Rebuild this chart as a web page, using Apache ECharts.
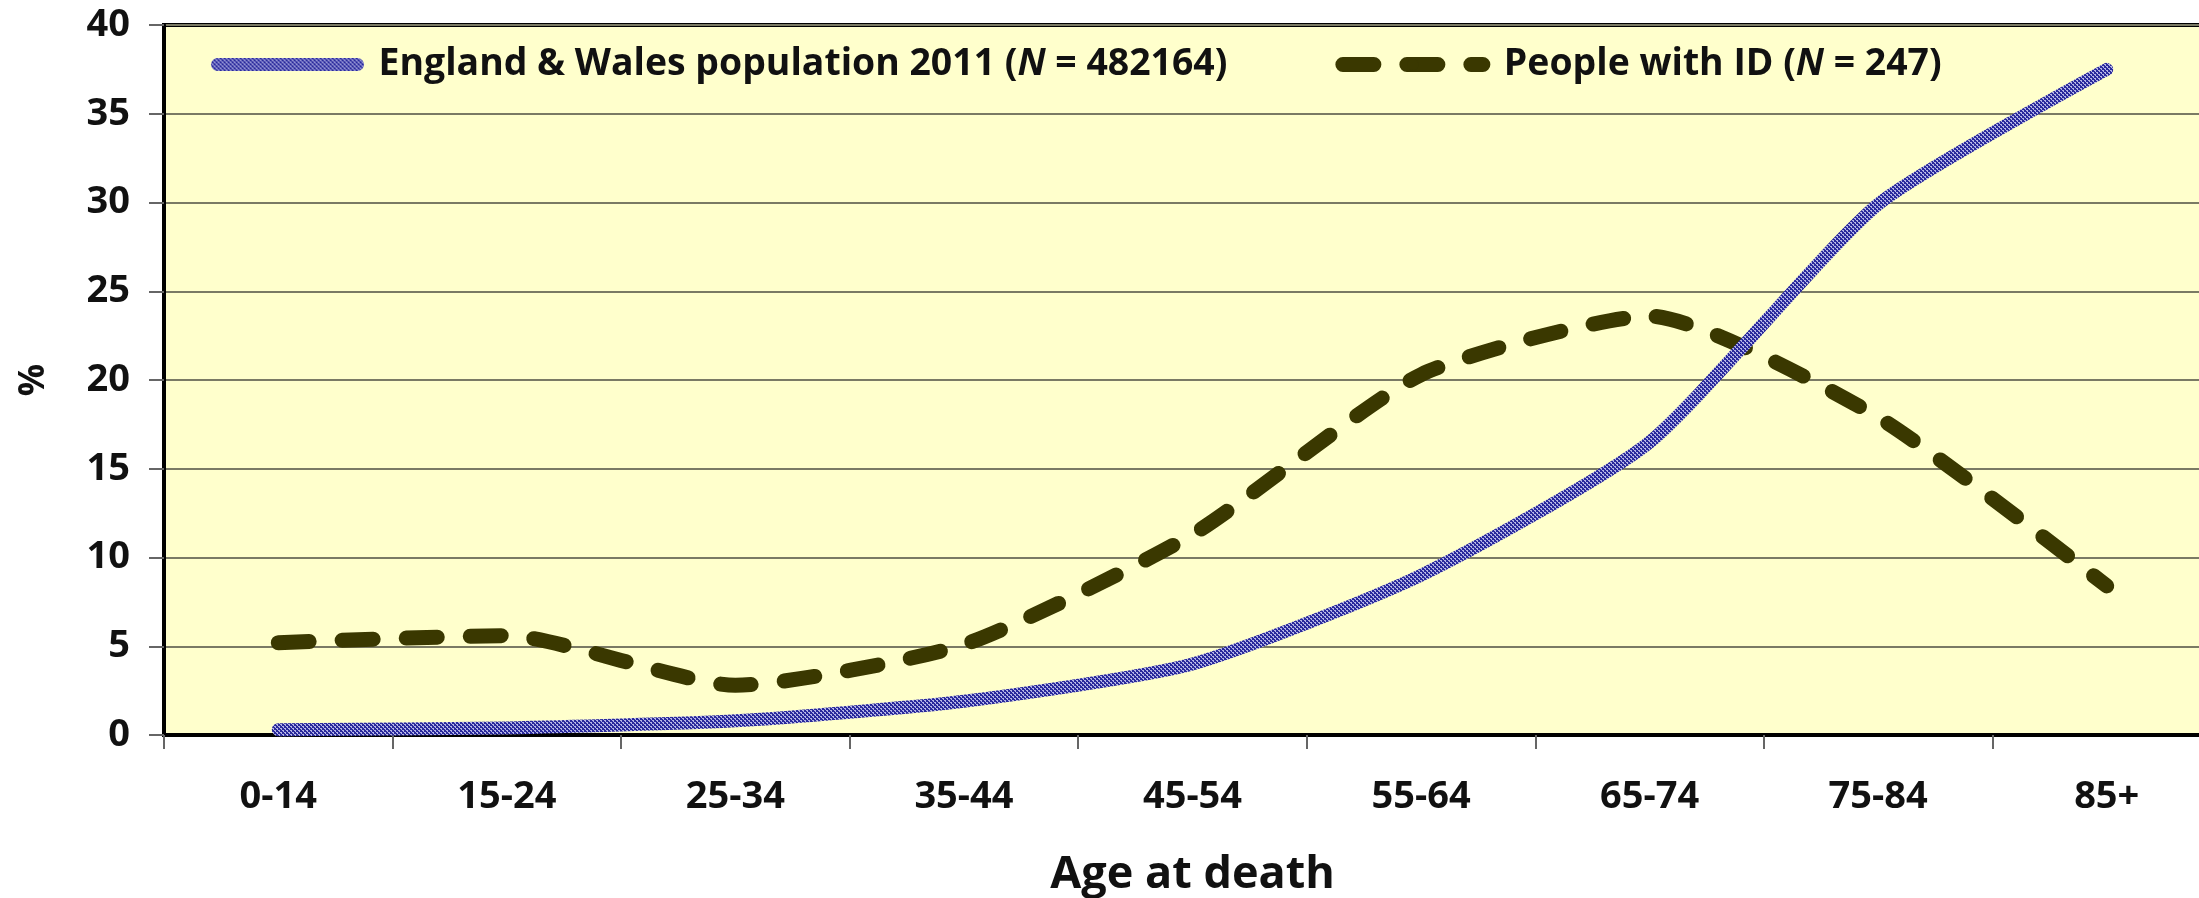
<!DOCTYPE html>
<html>
<head>
<meta charset="utf-8">
<script src="https://cdn.jsdelivr.net/npm/echarts@6/dist/echarts.min.js"></script>
<style>
  html, body { margin:0; padding:0; background:#fff; }
  #chart { width:2199px; height:898px; }
</style>
</head>
<body>
<div id="chart"></div>
<script>
(function(){
  // ---- data ---------------------------------------------------------------
  const ageGroups    = ['0-14','15-24','25-34','35-44','45-54','55-64','65-74','75-84','85+'];
  const ewPopulation = [0.3, 0.4, 0.8, 1.9, 4.0, 9.0, 16.5, 29.9, 37.5];
  const peopleWithId = [5.2, 5.6, 2.8, 5.1, 11.3, 20.3, 23.6, 17.9, 8.4];
  const yTicks       = [0, 5, 10, 15, 20, 25, 30, 35, 40];

  const NAME_EW = 'England & Wales population 2011';
  const NAME_ID = 'People with ID';
  const legendText = {};
  legendText[NAME_EW] = NAME_EW + ' ({i|N} = 482164)';
  legendText[NAME_ID] = NAME_ID + ' ({i|N} = 247)';

  const FONT = '"Open Sans", "DejaVu Sans", sans-serif';
  const INK  = '#111';

  // dotted blue texture like the Excel line fill
  function dotPattern() {
    const c = document.createElement('canvas');
    c.width = 4; c.height = 4;
    const g = c.getContext('2d');
    g.fillStyle = '#2a2a9c'; g.fillRect(0, 0, 4, 4);
    g.fillStyle = '#b4b4e6';
    g.fillRect(0, 0, 2, 1);
    g.fillRect(2, 2, 2, 1);
    g.fillRect(1, 1, 1, 1);
    g.fillRect(3, 3, 1, 1);
    return c;
  }
  const blueFill = { image: dotPattern(), repeat: 'repeat' };
  const olive = '#3a3800';

  const blueLine = { width: 13, color: blueFill, cap: 'round', join: 'round' };
  const darkDash = { width: 15, color: olive, type: [31, 33], cap: 'round', join: 'round' };

  const chart = echarts.init(document.getElementById('chart'), null, { renderer: 'canvas' });

  chart.setOption({
    animation: false,
    backgroundColor: '#fff',
    grid: {
      left: 164, top: 25, right: -22, bottom: 163,
      show: true, backgroundColor: '#ffffcc',
      borderColor: '#000', borderWidth: 4,
      containLabel: false, outerBoundsMode: 'none'
    },
    legend: {
      left: 206, top: 41,
      itemWidth: 140, itemHeight: 14, itemGap: 108,
      data: [
        { name: NAME_EW, lineStyle: blueLine },
        { name: NAME_ID, lineStyle: darkDash }
      ],
      formatter: n => legendText[n],
      textStyle: {
        fontFamily: FONT, fontWeight: 'bold', fontSize: 37.4, color: INK,
        padding: [0, 0, 0, 16],
        rich: { i: { fontFamily: FONT, fontWeight: 'bold', fontStyle: 'italic', fontSize: 37.4, color: INK } }
      }
    },
    xAxis: {
      type: 'category',
      data: ageGroups,
      boundaryGap: true,
      name: 'Age at death',
      nameLocation: 'middle',
      nameGap: 118,
      nameTextStyle: { fontFamily: FONT, fontWeight: 'bold', fontSize: 45, color: INK },
      axisLine: { show: true, lineStyle: { color: '#000', width: 4 } },
      axisTick: { show: true, length: 14, lineStyle: { color: '#666', width: 2 } },
      axisLabel: { margin: 43, fontFamily: FONT, fontWeight: 'bold', fontSize: 38, color: INK, interval: 0 }
    },
    yAxis: {
      type: 'value',
      min: 0, max: 40, interval: 5,
      name: '%',
      nameLocation: 'middle',
      nameRotate: 90,
      nameGap: 112,
      nameTextStyle: { fontFamily: FONT, fontWeight: 'bold', fontSize: 36, color: INK },
      axisLine: { show: true, lineStyle: { color: '#000', width: 4 } },
      axisTick: { show: true, length: 15, lineStyle: { color: '#666', width: 2 } },
      axisLabel: {
        margin: 34, fontFamily: FONT, fontWeight: 'bold', fontSize: 38, color: INK,
        formatter: v => (yTicks.indexOf(v) >= 0 ? String(v) : '')
      },
      splitLine: { show: true, lineStyle: { color: '#7a7a64', width: 2 } }
    },
    series: [
      {
        name: NAME_EW, type: 'line', data: ewPopulation,
        symbol: 'none', smooth: 0.2, color: blueFill,
        lineStyle: blueLine, z: 3
      },
      {
        name: NAME_ID, type: 'line', data: peopleWithId,
        symbol: 'none', smooth: 0.2, color: olive,
        lineStyle: darkDash, z: 2
      }
    ]
  });

  window.addEventListener('resize', () => chart.resize());
})();
</script>
</body>
</html>
